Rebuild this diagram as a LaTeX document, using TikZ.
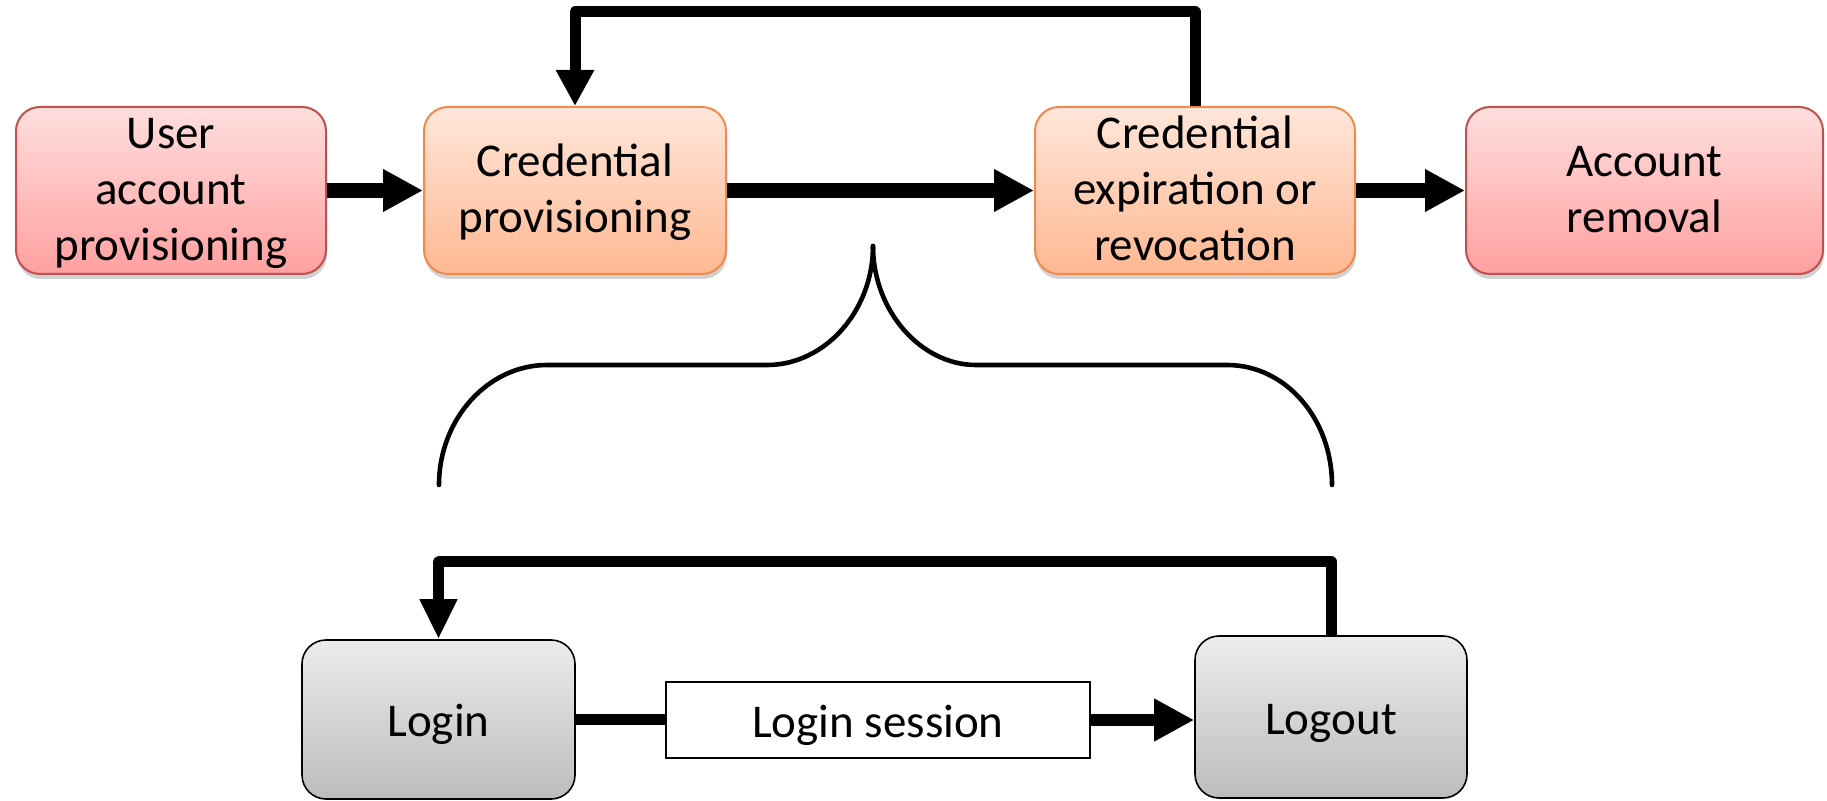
\documentclass[tikz,border=0pt]{standalone}
\usepackage{fontspec}
\setmainfont{Carlito}
\usetikzlibrary{arrows.meta,shadows}
\definecolor{redborder}{HTML}{C0504D}
\definecolor{redtop}{HTML}{FFDEDE}
\definecolor{redbot}{HTML}{FFA0A0}
\definecolor{orborder}{HTML}{EE8A4E}
\definecolor{ortop}{HTML}{FFE6DA}
\definecolor{orbot}{HTML}{FFB892}
\definecolor{greytop}{HTML}{ECECEC}
\definecolor{greybot}{HTML}{BCBCBC}
\newcommand\tst{\rule[-6.5pt]{0pt}{27pt}}
\newcommand\bst{\rule[-5.5pt]{0pt}{28.5pt}}
\begin{document}
\begin{tikzpicture}[x=0.5pt,y=-0.5pt,
  box/.style={rounded corners=12pt, minimum height=83.5pt, align=center,
    font=\fontsize{23.5}{28}\selectfont, inner sep=0pt, line width=1pt,
    drop shadow={shadow xshift=0.5pt, shadow yshift=-2.5pt, opacity=0.18, fill=black}},
  redbox/.style={box, draw=redborder, top color=redtop, bottom color=redbot},
  orbox/.style={box, draw=orborder, top color=ortop, bottom color=orbot},
  greybox/.style={rounded corners=12pt, align=center, draw=black, line width=0.8pt,
    font=\fontsize{23.5}{28}\selectfont, inner sep=0pt,
    top color=greytop, bottom color=greybot},
  sessbox/.style={draw=black, line width=1.3pt, fill=white, align=center,
    font=\fontsize{23.5}{28}\selectfont, inner sep=0pt,
    minimum width=212pt, minimum height=38pt},
  mainarrow/.style={line width=7.5pt, -{Triangle[length=20pt,width=20pt]}},
  fbarrow/.style={line width=5.5pt, line join=round, -{Triangle[length=18pt,width=18pt]}},
  brace/.style={line width=2.3pt, line join=round, line cap=round}
]
\useasboundingbox (0,0) rectangle (1827,801);

% top row
\node[redbox, minimum width=155pt] (A) at (171,190.5) {\tst User\\\tst account\\\tst provisioning};
\node[orbox, minimum width=151pt] (B) at (575,190.5) {\tst Credential\\\tst provisioning};
\node[orbox, minimum width=160pt] (C) at (1195,190.5) {\tst Credential\\\tst expiration or\\\tst revocation};
\node[redbox, minimum width=178.5pt] (D) at (1644.5,190.5) {\tst Account\\\tst removal};

\draw[mainarrow] (A) -- (B);
\draw[mainarrow] (B) -- (C);
\draw[mainarrow] (C) -- (D);

\coordinate (topY) at (0,12);
\draw[fbarrow] (C.north) |- (B.north |- topY) -- (B.north);

% brace
\draw[brace] (439,485) .. controls (439,419) and (488,365) .. (547,365)
  -- (767,365) .. controls (825,365) and (873,311) .. (873,246);
\draw[brace] (873,246) .. controls (873,311) and (921,365) .. (976,365)
  -- (1227,365) .. controls (1286,365) and (1332,419) .. (1332,485);

% bottom row
\node[greybox, minimum width=136.5pt, minimum height=79.5pt] (L) at (438.5,719.5) {\bst Login};
\node[greybox, minimum width=136pt, minimum height=81pt] (O) at (1331,717) {\bst Logout};
\node[sessbox] (S) at (878,720) {\bst Login session};

\draw[line width=5.5pt] (L.east |- S.west) -- (S.west);
\draw[line width=6pt, -{Triangle[length=20pt,width=20pt]}] (S.east) -- (S.east -| O.west);

\coordinate (botY) at (0,562);
\draw[fbarrow, -{Triangle[length=20pt,width=17.5pt]}] (O.north) |- (L.north |- botY) -- (L.north);
\end{tikzpicture}
\end{document}
